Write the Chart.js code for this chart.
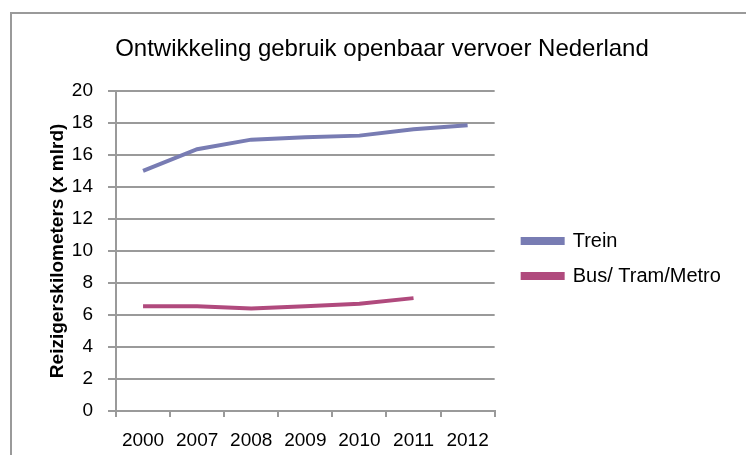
<!DOCTYPE html>
<html><head><meta charset="utf-8">
<script src="https://cdn.jsdelivr.net/npm/chart.js@4"></script>
<style>html,body{margin:0;padding:0;background:#fff;}#wrap{width:746px;height:455px;position:relative;}</style>
</head><body><div id="wrap"><canvas id="c" width="746" height="455"></canvas></div>
<script>
const categories = ['2000','2007','2008','2009','2010','2011','2012'];
const trein = [15.0, 16.35, 16.95, 17.1, 17.2, 17.6, 17.85];
const busTramMetro = [6.55, 6.55, 6.4, 6.55, 6.7, 7.05, null];
const seriesNames = ['Trein', 'Bus/ Tram/Metro'];
const titleText = 'Ontwikkeling gebruik openbaar vervoer Nederland';
const yTitle = 'Reizigerskilometers (x mlrd)';

const frame = {
  id: 'frame',
  beforeDraw(chart) {
    const ctx = chart.ctx;
    ctx.save();
    ctx.strokeStyle = '#9a9a9a';
    ctx.lineWidth = 2;
    ctx.beginPath();
    ctx.moveTo(11, 460);
    ctx.lineTo(11, 13);
    ctx.lineTo(760, 13);
    ctx.stroke();
    ctx.restore();
  }
};

// place the legend block like the reference (to the right of the plot, slightly below centre)
const legendShift = {
  id: 'legendShift',
  afterLayout(chart) {
    const l = chart.legend;
    const pad = l.options.labels.padding;
    l.left = chart.chartArea.right + 28 - pad;
    l.right = chart.width;
    l.top += 31;
    l.bottom += 31;
  }
};

new Chart(document.getElementById('c'), {
  type: 'line',
  data: {
    labels: categories,
    datasets: [
      {label: seriesNames[0], data: trein, borderColor: '#787cb3', backgroundColor: '#787cb3', borderWidth: 4, pointRadius: 0, tension: 0},
      {label: seriesNames[1], data: busTramMetro, borderColor: '#b04a7d', backgroundColor: '#b04a7d', borderWidth: 4, pointRadius: 0, tension: 0}
    ]
  },
  options: {
    responsive: false,
    animation: false,
    layout: {padding: {left: 18, right: 0, top: 0, bottom: 0}},
    plugins: {
      title: {display: true, text: titleText, color: '#000', font: {family: 'Liberation Sans', size: 24, weight: 'normal'}, padding: {top: 35, bottom: 27}},
      legend: {
        position: 'right',
        labels: {color: '#000', font: {family: 'Liberation Sans', size: 20}, boxWidth: 40, boxHeight: 4, padding: 15}
      },
      tooltip: {enabled: false}
    },
    scales: {
      x: {
        offset: true,
        grid: {display: true, drawOnChartArea: false, drawTicks: true, tickLength: 6, color: '#9a9a9a', lineWidth: 2, offset: true},
        border: {color: '#9a9a9a', width: 2},
        ticks: {color: '#000', font: {family: 'Liberation Sans', size: 19}, padding: 12, maxRotation: 0},
        afterFit: s => { s.height = 44; }
      },
      y: {
        min: 0, max: 20,
        ticks: {stepSize: 2, color: '#000', font: {family: 'Liberation Sans', size: 19}, padding: 15},
        grid: {color: '#9a9a9a', lineWidth: 2, tickLength: 8},
        border: {color: '#9a9a9a', width: 2},
        title: {display: true, text: yTitle, color: '#000', font: {family: 'Liberation Sans', size: 19, weight: 'bold'}, padding: {top: 28, bottom: 0}},
        afterFit: s => { s.width = 98; }
      },
      gap: {
        type: 'linear',
        position: 'right',
        display: true,
        grid: {display: false, drawTicks: false},
        border: {display: false},
        ticks: {display: false},
        afterFit: s => { s.width = 130; }
      }
    }
  },
  plugins: [frame, legendShift]
});
</script></body></html>
